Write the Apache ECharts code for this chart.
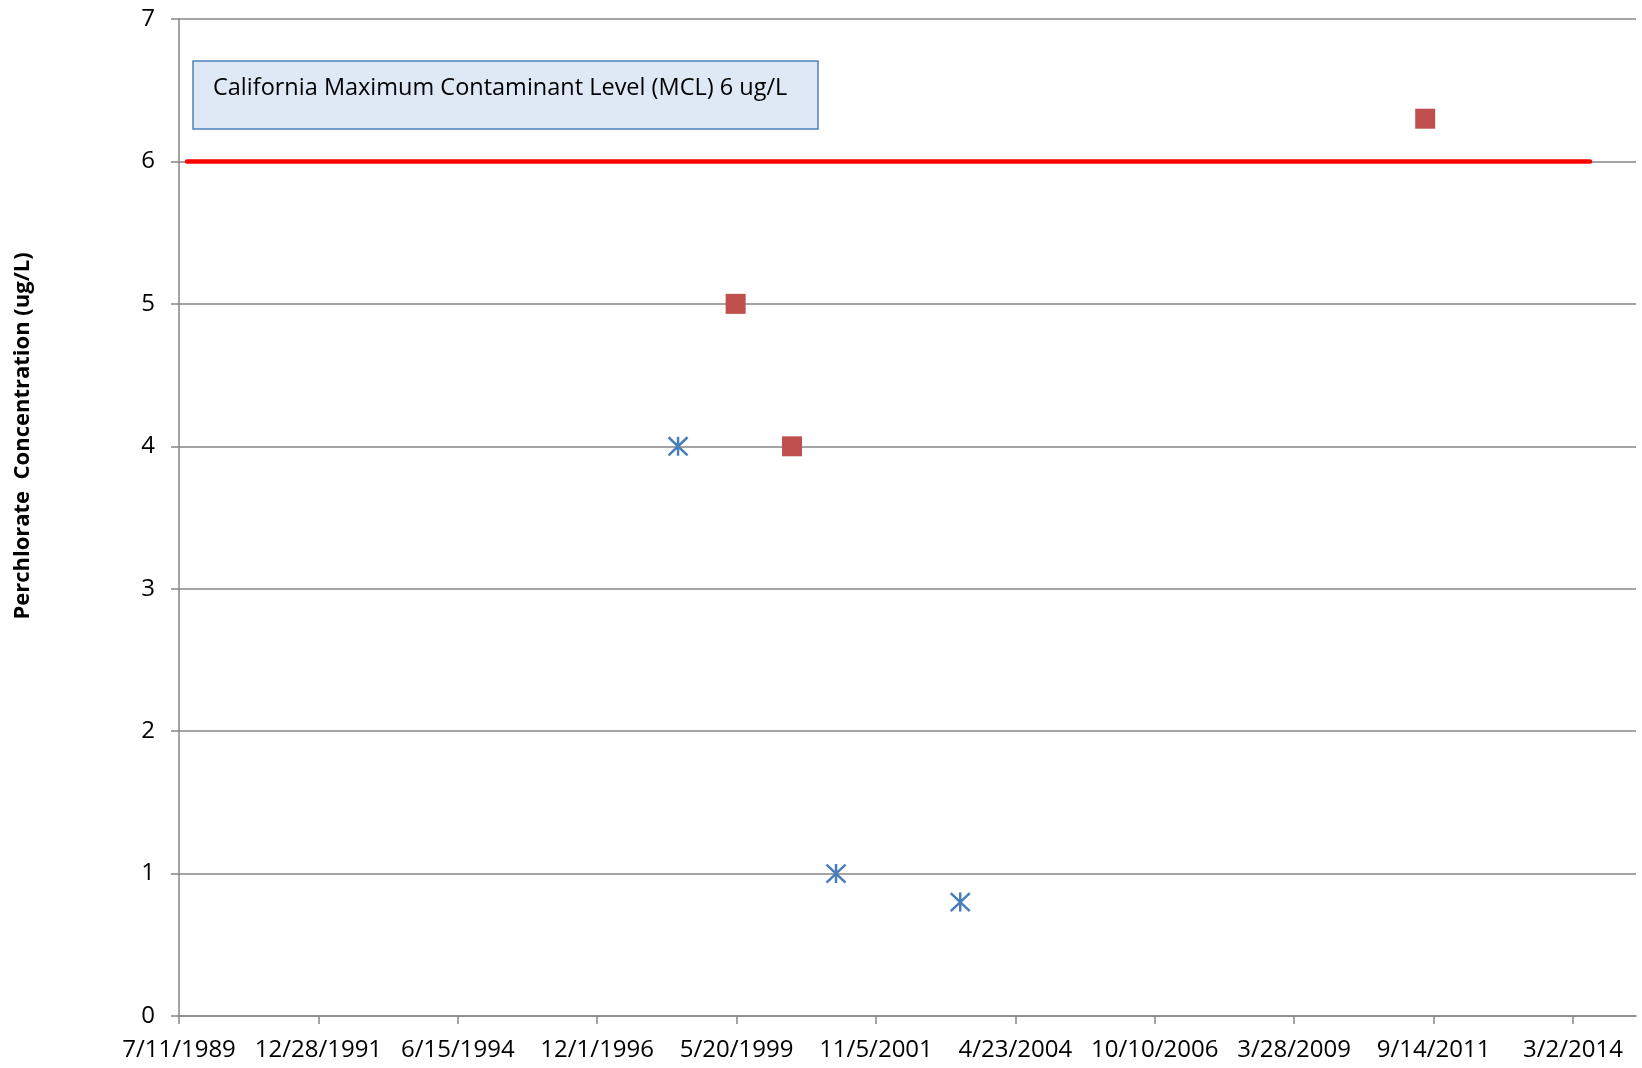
<!DOCTYPE html>
<html>
<head>
<meta charset="utf-8">
<title>Perchlorate Concentration</title>
<script src="https://cdn.jsdelivr.net/npm/echarts@6/dist/echarts.min.js"></script>
<style>
  html, body { margin: 0; padding: 0; background: #fff; }
  #chart { width: 1642px; height: 1068px; }
</style>
</head>
<body>
<div id="chart"></div>
<script>
// x values are Excel date serials (days since 12/30/1899)
var xTickLabels = ['7/11/1989', '12/28/1991', '6/15/1994', '12/1/1996', '5/20/1999',
  '11/5/2001', '4/23/2004', '10/10/2006', '3/28/2009', '9/14/2011', '3/2/2014'];
var xMin = 32700;
var xMax = 42107;
var yTicks = [0, 1, 2, 3, 4, 5, 6, 7];

// blue asterisks
var seriesA = [[35922, 4], [36942, 1], [37744, 0.8]];
// red squares
var seriesB = [[36294, 5], [36658, 4], [40746, 6.3]];
// MCL reference line
var mclLine = [[32752, 6], [41810, 6]];
var mclText = 'California Maximum Contaminant Level (MCL) 6 ug/L';
var yTitle = 'Perchlorate  Concentration (ug/L)';

function toSerial(s) {
  var p = s.split('/');
  return Date.UTC(+p[2], +p[0] - 1, +p[1]) / 86400000 + 25569;
}
function toLabel(v) {
  var d = new Date((Math.round(v) - 25569) * 86400000);
  return (d.getUTCMonth() + 1) + '/' + d.getUTCDate() + '/' + d.getUTCFullYear();
}

var xTicks = xTickLabels.map(toSerial);
var font = "'Open Sans', 'Noto Sans', sans-serif";
var gray = '#868686';

var chart = echarts.init(document.getElementById('chart'));
chart.setOption({
  animation: false,
  backgroundColor: '#fff',
  grid: { left: 179, top: 19, right: 6, bottom: 52, containLabel: false },
  xAxis: {
    type: 'value',
    min: xMin,
    max: xMax,
    axisLine: { show: true, lineStyle: { color: gray, width: 1.5 } },
    axisTick: { show: true, length: 8, customValues: xTicks, lineStyle: { color: gray, width: 1.5 } },
    axisLabel: {
      customValues: xTicks,
      formatter: toLabel,
      color: '#000',
      fontFamily: font,
      fontSize: 24,
      margin: 22
    },
    splitLine: { show: false }
  },
  yAxis: {
    type: 'value',
    min: yTicks[0],
    max: yTicks[yTicks.length - 1],
    interval: 1,
    axisLine: { show: true, lineStyle: { color: gray, width: 1.5 } },
    axisTick: { show: true, length: 8, lineStyle: { color: gray, width: 1.5 } },
    axisLabel: { color: '#000', fontFamily: font, fontSize: 24, margin: 24 },
    splitLine: { show: true, lineStyle: { color: gray, width: 1.5 } }
  },
  graphic: [
    {
      type: 'rect',
      shape: { x: 193, y: 61, width: 625, height: 68 },
      style: { fill: '#dfe8f5', stroke: '#4f81bd', lineWidth: 1.5 },
      z: 10
    },
    {
      type: 'text',
      x: 213, y: 88,
      style: { text: mclText, fill: '#000', font: '23.5px ' + font, textVerticalAlign: 'middle' },
      z: 11
    },
    {
      type: 'text',
      x: 23, y: 436,
      rotation: Math.PI / 2,
      style: { text: yTitle, fill: '#000', font: 'bold 22px ' + font, textAlign: 'center', textVerticalAlign: 'middle' }
    }
  ],
  series: [
    {
      type: 'line',
      data: mclLine,
      symbol: 'none',
      lineStyle: { color: '#ff0000', width: 4.5, cap: 'round' },
      z: 3
    },
    {
      type: 'scatter',
      data: seriesA,
      symbol: 'path://M10,0L10,20M0.5,0.5L19.5,19.5M0.5,19.5L19.5,0.5',
      symbolSize: 19,
      itemStyle: { color: 'rgba(0,0,0,0)', borderColor: '#4a7ebb', borderWidth: 2.5, opacity: 1 },
      z: 4
    },
    {
      type: 'scatter',
      data: seriesB,
      symbol: 'rect',
      symbolSize: 20,
      itemStyle: { color: '#c0504d', opacity: 1 },
      z: 4
    }
  ]
});
</script>
</body>
</html>
